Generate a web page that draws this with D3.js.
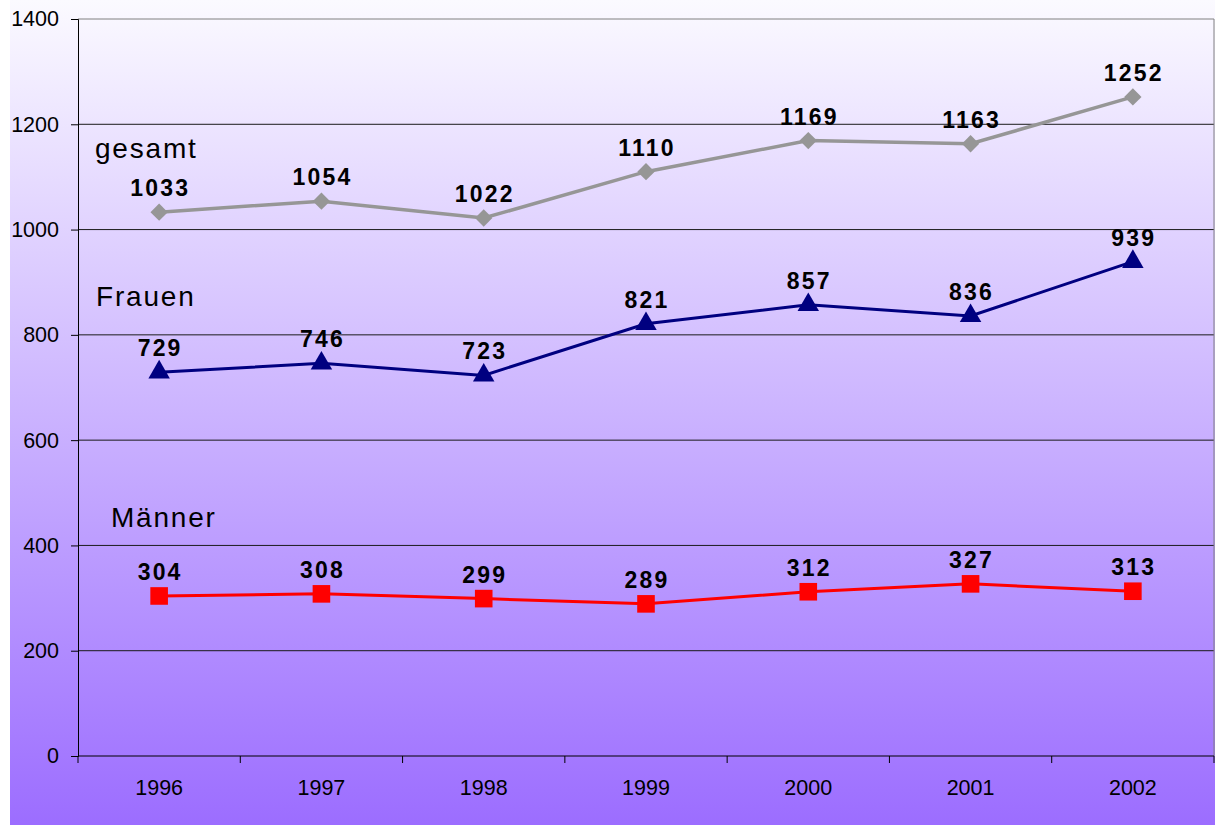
<!DOCTYPE html>
<html>
<head>
<meta charset="utf-8">
<script src="https://cdn.jsdelivr.net/npm/d3@7"></script>
<style>
  body { margin: 0; background: #fff; }
  svg { display: block; font-family: Arial, "Liberation Sans", sans-serif; }
</style>
</head>
<body>
<div id="chart"></div>
<script>
// Data
const years = ["1996", "1997", "1998", "1999", "2000", "2001", "2002"];
const gesamt = [1033, 1054, 1022, 1110, 1169, 1163, 1252];
const frauen = [729, 746, 723, 821, 857, 836, 939];
const maenner = [304, 308, 299, 289, 312, 327, 313];
const yTicks = [0, 200, 400, 600, 800, 1000, 1200, 1400];

const W = 1215, H = 825;
const margins = { top: 19, right: 1, bottom: 69, left: 78 };
const cw = W - margins.left - margins.right;
const ch = H - margins.top - margins.bottom;

let svg = d3.select("#chart").append("svg")
  .attr("width", W)
  .attr("height", H);

// background gradient, white at top to violet at bottom
let grad = svg.append("defs").append("linearGradient")
  .attr("id", "bg").attr("x1", 0).attr("y1", 0).attr("x2", 0).attr("y2", 1);
grad.append("stop").attr("offset", "0%").attr("stop-color", "#fbfaff");
grad.append("stop").attr("offset", "100%").attr("stop-color", "#9c6dff");

svg.append("rect")
  .attr("x", 10).attr("y", 0)
  .attr("width", W - 10).attr("height", H)
  .attr("fill", "url(#bg)");

let x = d3.scaleBand().domain(years).range([0, cw]);
let y = d3.scaleLinear().domain([0, 1400]).range([ch, 0]);

let g = svg.append("g")
  .attr("transform", "translate(" + margins.left + "," + margins.top + ")");

// gridlines
g.append("g").selectAll("line")
  .data(yTicks.filter(d => d > 0))
  .join("line")
  .attr("x1", 0).attr("x2", cw)
  .attr("y1", d => y(d)).attr("y2", d => y(d))
  .attr("stroke", d => d === 1400 ? "#808080" : "#1a1a1a")
  .attr("stroke-width", 1);

// right border
g.append("line")
  .attr("x1", cw).attr("x2", cw).attr("y1", 0).attr("y2", ch)
  .attr("stroke", "#808080");

// y axis
let yAxis = g.append("g")
  .call(d3.axisLeft(y).tickValues(yTicks).tickFormat(d3.format("d"))
    .tickSize(7).tickPadding(12));
yAxis.attr("font-size", 21.5).attr("font-family", null);
yAxis.select(".domain").attr("stroke", "#000");
yAxis.selectAll("text").attr("fill", "#000");

// x axis: ticks between categories
let xAxis = g.append("g").attr("transform", "translate(0," + ch + ")");
xAxis.append("line").attr("x1", 0).attr("x2", cw).attr("stroke", "#000");
xAxis.selectAll("line.tick")
  .data(d3.range(years.length + 1))
  .join("line").attr("class", "tick")
  .attr("x1", i => i * x.step()).attr("x2", i => i * x.step())
  .attr("y1", 0).attr("y2", 7)
  .attr("stroke", "#000");
xAxis.selectAll("text")
  .data(years)
  .join("text")
  .attr("x", d => x(d) + x.bandwidth() / 2)
  .attr("y", 39)
  .attr("text-anchor", "middle")
  .attr("font-size", 21.5)
  .text(d => d);

const cx = (d, i) => x(years[i]) + x.bandwidth() / 2;

const series = [
  { name: "gesamt", values: gesamt, color: "#969696", shape: d3.symbolSquare, size: 150, rot: 45, width: 3.5 },
  { name: "Frauen", values: frauen, color: "#000080", shape: d3.symbolTriangle, size: 200, rot: 0, width: 3 },
  { name: "Männer", values: maenner, color: "#ff0000", shape: d3.symbolSquare, size: 310, rot: 0, width: 3 }
];

let line = d3.line().x(cx).y(d => y(d));

series.forEach(s => {
  g.append("path")
    .datum(s.values)
    .attr("d", line)
    .attr("fill", "none")
    .attr("stroke", s.color)
    .attr("stroke-width", s.width);

  g.selectAll(null)
    .data(s.values)
    .join("path")
    .attr("transform", (d, i) => "translate(" + cx(d, i) + "," + y(d) + ") rotate(" + s.rot + ")")
    .attr("d", d3.symbol().type(s.shape).size(s.size))
    .attr("fill", s.color);

  g.selectAll(null)
    .data(s.values)
    .join("text")
    .attr("x", (d, i) => cx(d, i) + 1)
    .attr("y", d => y(d) - 16)
    .attr("text-anchor", "middle")
    .attr("font-size", 23)
    .attr("font-weight", "bold")
    .attr("letter-spacing", 2.2)
    .attr("fill", "#000")
    .text(d => d);
});

// series names
const names = [
  { text: "gesamt", x: 17, y: 139 },
  { text: "Frauen", x: 18, y: 287 },
  { text: "Männer", x: 33, y: 508 }
];
g.selectAll("text.name")
  .data(names)
  .join("text").attr("class", "name")
  .attr("x", d => d.x).attr("y", d => d.y)
  .attr("font-size", 28)
  .attr("letter-spacing", 1.8)
  .attr("fill", "#000")
  .text(d => d.text);
</script>
</body>
</html>
